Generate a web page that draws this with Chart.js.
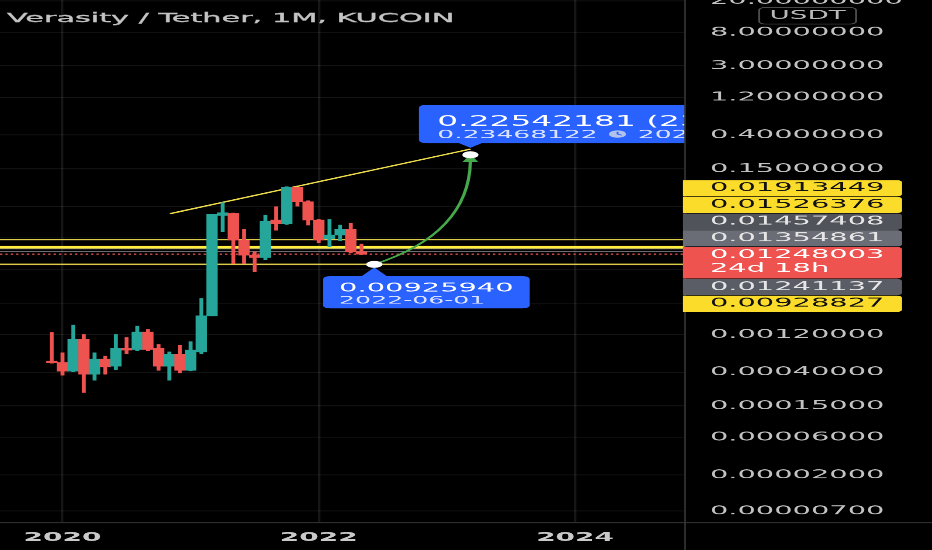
<!DOCTYPE html>
<html>
<head>
<meta charset="utf-8">
<script src="https://cdn.jsdelivr.net/npm/chart.js@4/dist/chart.umd.min.js"></script>
<style>
html,body{margin:0;padding:0;background:#000;overflow:hidden;width:932px;height:550px;}
#wrap{position:absolute;left:0;top:0;width:400px;height:550px;transform:scaleX(2.33);transform-origin:0 0;background:#000;}
#c{position:absolute;left:0;top:0;}
#title{position:absolute;left:3px;top:10.7px;font:13px "DejaVu Sans";line-height:13px;color:#c4c4c4;white-space:nowrap;-webkit-text-stroke:0.3px #c4c4c4;}
</style>
</head>
<body>
<div id="wrap">
<canvas id="c" width="400" height="550"></canvas>
<div id="title">Verasity / Tether, 1M, KUCOIN</div>
</div>
<script>
// ---------- data ----------
const months = ["2019-12","2020-01","2020-02","2020-03","2020-04","2020-05","2020-06","2020-07","2020-08","2020-09","2020-10","2020-11","2020-12",
  "2021-01","2021-02","2021-03","2021-04","2021-05","2021-06","2021-07","2021-08","2021-09","2021-10","2021-11","2021-12",
  "2022-01","2022-02","2022-03","2022-04","2022-05"];
const openP  = [0.000552,0.000531,0.000412,0.00105,0.000378,0.000585,0.000477,0.000799,0.000776,0.001285,0.000799,0.000477,0.000671,
  0.000424,0.000724,0.002066,0.03856,0.04087,0.01877,0.01212,0.01133,0.03362,0.03053,0.0872,0.05731,
  0.03362,0.01972,0.02171,0.02564,0.01335];
const highP  = [0.001274,0.000703,0.001576,0.001201,0.000703,0.000638,0.001201,0.001101,0.00153,0.00139,0.000898,0.000724,0.00088,
  0.000969,0.00343,0.0397,0.05567,0.04123,0.02564,0.01335,0.0389,0.04954,0.08874,0.08797,0.05901,
  0.0343,0.0343,0.02906,0.03053,0.0167];
const lowP   = [0.000521,0.000367,0.000404,0.000222,0.000317,0.000378,0.000433,0.000691,0.000745,0.000745,0.000424,0.000317,0.000392,
  0.000416,0.000691,0.002066,0.0239,0.009517,0.009517,0.007451,0.01069,0.02512,0.02966,0.05056,0.02906,
  0.01734,0.01544,0.01839,0.01296,0.0123];
const closeP = [0.000528,0.000412,0.001039,0.000378,0.000585,0.000467,0.000799,0.00076,0.001285,0.000776,0.000477,0.000671,0.000424,
  0.00076,0.002066,0.0397,0.04159,0.01877,0.01212,0.01133,0.03265,0.03053,0.0872,0.05731,0.03362,
  0.01877,0.02171,0.02564,0.01335,0.01248];

const xRange = [-5.854, 58.30];                  // months since Jan 2020 visible
const xTickMonths = [0, 24, 48];
const xTickLabels = ["2020", "2022", "2024"];
const yRange = [5.056e-6, 20.48];
const yTickValues = [20, 8, 3, 1.2, 0.4, 0.15, 0.05, 0.02, 0.008, 0.003, 0.0012, 0.0004, 0.00015, 0.00006, 0.00002, 0.000007];
const yTickLabels = ["20.00000000","8.00000000","3.00000000","1.20000000","0.40000000","0.15000000","","","","",
  "0.00120000","0.00040000","0.00015000","0.00006000","0.00002000","0.00000700"];

const levelPrices = [0.01913449, 0.01526376, 0.01457408, 0.01354861, 0.01248003, 0.00928827];
const levelColors = ["#dccb4a", "#ffec3d", "#7b7e86", "#7b7e86", "#ef5350", "#dccb4a"];
const levelWidths = [1.5, 2.6, 1, 1, 1.2, 1.5];
const levelDashed = [false, false, false, false, true, false];

const trendMonths = [10.07, 38.2];
const trendPrices = [0.0405, 0.266];

const lowPoint  = [29.2, 0.0092594];
const highPoint = [38.2, 0.22542181];
const lowTexts  = ["0.00925940", "2022-06-01"];
const highTexts = ["0.22542181 (2334.52%)", "0.23468122", "2023-03-01"];

const tagTexts = ["0.01913449","0.01526376","0.01457408","0.01354861","0.01248003","0.01241137","0.00928827"];
const tagFills = ["#fbdc2a","#fbdc2a","#505359","#6a6d75","#ef5350","#5a5d66","#fbdc2a"];
const tagInks  = ["#111111","#111111","#e6e6e6","#e6e6e6","#ffffff","#e6e6e6","#111111"];
const tagAnchor = 4;
const countdownText = "24d 18h";
const currencyText = "USDT";

// ---------- derived ----------
const UP = "#26a69a", DOWN = "#ef5350";
function monthIndex(s){ const [y,m] = s.split("-").map(Number); return (y-2020)*12 + (m-1); }
const xs = months.map(monthIndex);
const candleColors = months.map((_, i) => closeP[i] >= openP[i] ? UP : DOWN);
const wickData = months.map((_, i) => ({x: xs[i], y: [lowP[i], highP[i]]}));
const bodyData = months.map((_, i) => ({x: xs[i], y: [Math.min(openP[i], closeP[i]), Math.max(openP[i], closeP[i])]}));

const W = 400, H = 550;
const plotRight = 294, plotBottom = 522;
const FONT = '"DejaVu Sans"';

const levelDatasets = levelPrices.map((p, i) => ({
  type: 'line',
  data: [{x: xRange[0], y: p}, {x: xRange[1], y: p}],
  borderColor: levelColors[i],
  borderWidth: levelWidths[i],
  borderDash: levelDashed[i] ? [1, 1.3] : [],
  pointRadius: 0,
  order: 5
}));

const trendDataset = {
  type: 'line',
  data: trendMonths.map((m, i) => ({x: m, y: trendPrices[i]})),
  borderColor: "#eedd4c",
  borderWidth: 1.3,
  pointRadius: 0,
  order: 4
};

const overlay = {
  id: 'overlay',
  beforeDraw(chart){
    const c = chart.ctx;
    c.save(); c.fillStyle = '#000'; c.fillRect(0, 0, chart.width, chart.height); c.restore();
  },
  afterDatasetsDraw(chart){
    const c = chart.ctx, sx = chart.scales.x, sy = chart.scales.y, a = chart.chartArea;
    c.save();
    c.beginPath(); c.rect(a.left, a.top, a.right - a.left, a.bottom - a.top); c.clip();
    const lx = sx.getPixelForValue(lowPoint[0]), ly = sy.getPixelForValue(lowPoint[1]);
    const hx = sx.getPixelForValue(highPoint[0]), hy = sy.getPixelForValue(highPoint[1]);
    // curved arrow
    const baseY = hy + 7.2;
    const cx = lx + 0.98 * (hx - lx), cy = ly - 0.28 * (ly - hy);
    c.strokeStyle = "#45a84a"; c.lineWidth = 1.4;
    c.beginPath(); c.moveTo(lx, ly); c.quadraticCurveTo(cx, cy, hx, baseY); c.stroke();
    c.fillStyle = "#45a84a";
    c.beginPath(); c.moveTo(hx, hy - 0.5); c.lineTo(hx - 3.4, baseY); c.lineTo(hx + 3.4, baseY); c.closePath(); c.fill();
    // upper bubble
    const blue = "#2962ff";
    const uLeft = hx - 22.1, uTop = hy - 50, uH = 38.3;
    c.fillStyle = blue;
    c.beginPath(); c.roundRect(uLeft, uTop, 140, uH, 3); c.fill();
    c.beginPath(); c.moveTo(hx - 5.5, uTop + uH - 0.5); c.lineTo(hx, hy - 7); c.lineTo(hx + 5.5, uTop + uH - 0.5); c.closePath(); c.fill();
    c.fillStyle = "#ffffff"; c.textBaseline = 'alphabetic'; c.textAlign = 'left';
    c.font = `14.1px ${FONT}`; c.fillText(highTexts[0], uLeft + 7.9, hy - 29);
    c.fillStyle = "#dbe3ff"; c.font = `11.4px ${FONT}`;
    c.fillText(highTexts[1], uLeft + 7.9, hy - 16.7);
    const tw = c.measureText(highTexts[1]).width;
    const clockX = uLeft + 7.9 + tw + 4.8 + 3.7, clockY = hy - 20.7;
    c.fillStyle = "#b3c2ec"; c.beginPath(); c.arc(clockX, clockY, 3.7, 0, Math.PI * 2); c.fill();
    c.strokeStyle = blue; c.lineWidth = 0.8;
    c.beginPath(); c.moveTo(clockX, clockY - 2.4); c.lineTo(clockX, clockY); c.lineTo(clockX + 1.8, clockY + 1.2); c.stroke();
    c.fillStyle = "#dbe3ff"; c.fillText(highTexts[2], clockX + 3.7 + 5, hy - 16.7);
    // lower bubble
    const lLeft = lx - 22, lTop = ly + 11.7, lW = 88.7, lH = 32.3;
    c.fillStyle = blue;
    c.beginPath(); c.roundRect(lLeft, lTop, lW, lH, 3); c.fill();
    c.beginPath(); c.moveTo(lx - 5.6, lTop + 0.5); c.lineTo(lx, ly + 3); c.lineTo(lx + 5.6, lTop + 0.5); c.closePath(); c.fill();
    c.fillStyle = "#ffffff"; c.font = `12.4px ${FONT}`; c.fillText(lowTexts[0], lLeft + 6.9, ly + 27.3);
    c.fillStyle = "#dbe3ff"; c.font = `10.8px ${FONT}`; c.fillText(lowTexts[1], lLeft + 6.9, ly + 39.3);
    // anchor dots
    c.fillStyle = "#ffffff";
    c.beginPath(); c.arc(lx, ly, 3.5, 0, Math.PI * 2); c.fill();
    c.beginPath(); c.arc(hx, hy, 3.5, 0, Math.PI * 2); c.fill();
    c.restore();
  },
  afterDraw(chart){
    const c = chart.ctx, sy = chart.scales.y, a = chart.chartArea;
    c.save();
    // separators
    c.strokeStyle = "#363636"; c.lineWidth = 0.7;
    c.beginPath(); c.moveTo(a.right, 0); c.lineTo(a.right, chart.height); c.stroke();
    c.lineWidth = 1;
    c.beginPath(); c.moveTo(0, a.bottom + 0.5); c.lineTo(chart.width, a.bottom + 0.5); c.stroke();
    // price tags
    const tagH = 16.7, redH = 32;
    const anchorY = sy.getPixelForValue(parseFloat(tagTexts[tagAnchor]));
    const redTop = anchorY - 7.4;
    const tagLeft = a.right - 0.9, tagW = 94;
    c.textAlign = 'left'; c.textBaseline = 'middle'; c.font = `12.4px ${FONT}`;
    tagTexts.forEach((t, i) => {
      let top, h = tagH;
      if (i < tagAnchor) top = redTop - (tagAnchor - i) * tagH;
      else if (i === tagAnchor) { top = redTop; h = redH; }
      else top = redTop + redH + (i - tagAnchor - 1) * tagH;
      c.fillStyle = tagFills[i];
      c.beginPath(); c.roundRect(tagLeft, top + 0.3, tagW, h - 0.6, [0, 2, 2, 0]); c.fill();
      c.fillStyle = tagInks[i];
      c.fillText(t, a.right + 10.7, top + 8.1);
      if (i === tagAnchor) c.fillText(countdownText, a.right + 10.7, top + 22);
    });
    // currency badge
    c.strokeStyle = "#4d4d4d"; c.lineWidth = 0.8;
    c.beginPath(); c.roundRect(325.8, 7.5, 41.6, 16.5, 2.5); c.stroke();
    c.fillStyle = "#b8b8b8"; c.textAlign = 'center'; c.font = `11.9px ${FONT}`;
    c.fillText(currencyText, 346.6, 16);
    c.restore();
  }
};

new Chart(document.getElementById('c'), {
  type: 'bar',
  data: {
    datasets: [
      ...levelDatasets,
      trendDataset,
      { data: wickData, backgroundColor: candleColors, barThickness: 1, grouped: false, order: 2 },
      { data: bodyData, backgroundColor: candleColors, barThickness: 4.2, grouped: false, minBarLength: 1.2, order: 1 }
    ]
  },
  plugins: [overlay],
  options: {
    responsive: false,
    devicePixelRatio: 932 / 400,
    animation: false,
    events: [],
    layout: { padding: 0 },
    plugins: { legend: { display: false }, tooltip: { enabled: false }, title: { display: false } },
    scales: {
      x: {
        type: 'linear', position: 'bottom', min: xRange[0], max: xRange[1], bounds: 'data',
        offset: false,
        grid: { color: 'rgba(255,255,255,0.085)', drawTicks: false, offset: false },
        border: { display: false },
        afterBuildTicks(s){ s.ticks = xTickMonths.map(v => ({value: v})); },
        afterFit(s){ s.height = H - plotBottom; s.paddingLeft = 0; s.paddingRight = 0; },
        ticks: {
          autoSkip: false, maxRotation: 0, padding: 8.5,
          color: '#c9c9c9', font: { family: 'DejaVu Sans', size: 12, weight: 'bold' },
          callback: (v, i) => xTickLabels[i]
        }
      },
      y: {
        type: 'logarithmic', position: 'right', min: yRange[0], max: yRange[1], bounds: 'data',
        grid: { color: 'rgba(255,255,255,0.075)', drawTicks: false },
        border: { display: false },
        afterBuildTicks(s){ s.ticks = yTickValues.map(v => ({value: v})); },
        afterFit(s){ s.width = W - plotRight; s.paddingTop = 0; s.paddingBottom = 0; },
        ticks: {
          autoSkip: false, padding: 10.7, crossAlign: 'near',
          color: '#c2c2c2', font: { family: 'DejaVu Sans', size: 12.4 },
          callback: (v, i) => yTickLabels[i]
        }
      }
    }
  }
});
</script>
</body>
</html>
